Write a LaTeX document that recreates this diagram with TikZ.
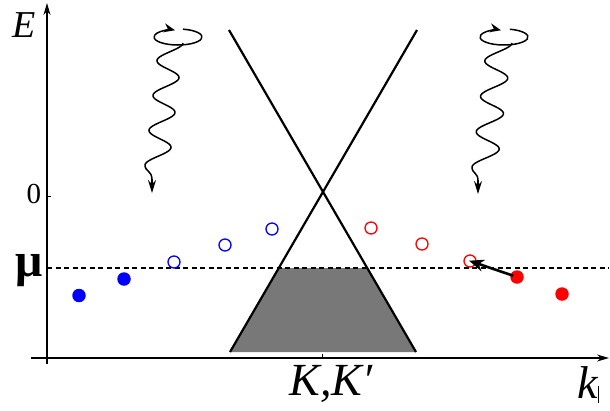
\documentclass[tikz,border=0pt]{standalone}
\usepackage{fontspec}
\setmainfont{Liberation Serif}
\usetikzlibrary{arrows.meta}
\begin{document}
\begin{tikzpicture}[x=1pt,y=-1pt,
  axis/.style={line width=1.4pt},
  cone/.style={line width=2.2pt},
  wave/.style={line width=1.5pt},
  full/.style={circle,inner sep=0pt,minimum size=13.5pt},
  hollow/.style={circle,inner sep=0pt,minimum size=12pt,draw,line width=1.3pt},
  lbl/.style={inner sep=0pt}]
\useasboundingbox (0,0) rectangle (610,410);
% shaded region
\fill[fill=black!53] (279,268) -- (367,268) -- (416,352) -- (230,352) -- cycle;
% axes
\draw[axis,-{Stealth[length=12pt,width=7pt]}] (47,364) -- (47,3);
\draw[axis,-{Stealth[length=12pt,width=7pt]}] (31,358) -- (609,358);
\draw[line width=1pt] (47,196) -- (51,196);
\draw[line width=1pt] (322,358) -- (322,354);
% Fermi level
\draw[line width=1.2pt,dash pattern=on 5pt off 3.5pt] (47,268) -- (609,268);
% cone
\draw[cone] (229,30) -- (416,352);
\draw[cone] (417,30) -- (230,352);
% labels
\node[lbl] (E) at (24,25) {\fontsize{38}{38}\selectfont\itshape E};
\node[lbl] (zero) at (34,194) {\fontsize{29}{29}\selectfont 0};
\node[lbl] (mu) at (29,271) {\fontsize{48}{48}\selectfont\bfseries μ};
\node[lbl] (K) at (331,384) {\fontsize{46}{46}\selectfont\itshape K,K′};
\node[lbl,anchor=base west] (k) at (577,398) {\fontsize{46}{46}\selectfont\itshape k\raisebox{-5pt}{\rule{1pt}{17pt}}};
% dots
\node[full,fill=blue] (b1) at (79,295.5) {};
\node[full,fill=blue] (b2) at (124,279) {};
\node[hollow,draw=blue] (b3) at (174,262) {};
\node[hollow,draw=blue] (b4) at (225,245) {};
\node[hollow,draw=blue] (b5) at (272,229) {};
\node[hollow,draw=red] (r1) at (371,228) {};
\node[hollow,draw=red] (r2) at (422,244) {};
\node[hollow,draw=red] (r3) at (470,261) {};
\node[full,fill=red] (r4) at (517,277) {};
\node[full,fill=red] (r5) at (562,294) {};
\draw[line width=2.6pt,shorten <=4pt,shorten >=-1pt,-{Stealth[length=15pt,width=12pt]}] (r4.center) -- (r3.center);
% left photon
\draw[wave] (178,37) ++(-78:24 and 8) arc[start angle=-78,end angle=252,x radius=24,y radius=8];
\draw[wave,-{Stealth[length=11pt,width=9pt]}] (178,37) ++(253:24 and 8) -- ++(4,0.9);
\draw[wave] plot[domain=0:1,samples=160,smooth] ({171-14*\x+12*cos(1260*\x)},{43+122*\x})
  .. controls (145,172) and (152,170) .. (152,180);
\draw[wave,-{Stealth[length=13pt,width=8pt]}] (152,179) -- (152,193);
% right photon
\draw[wave] (504,37) ++(-76:24 and 8) arc[start angle=-76,end angle=252,x radius=24,y radius=8];
\draw[wave,-{Stealth[length=11pt,width=9pt]}] (504,37) ++(253:24 and 8) -- ++(4,0.9);
\draw[wave] plot[domain=0:1,samples=160,smooth] ({499.5-15*\x+12.5*cos(1260*\x)},{43+124*\x})
  .. controls (472,174) and (478,172) .. (478,181);
\draw[wave,-{Stealth[length=13pt,width=8pt]}] (478,180) -- (478,194);
\end{tikzpicture}
\end{document}
